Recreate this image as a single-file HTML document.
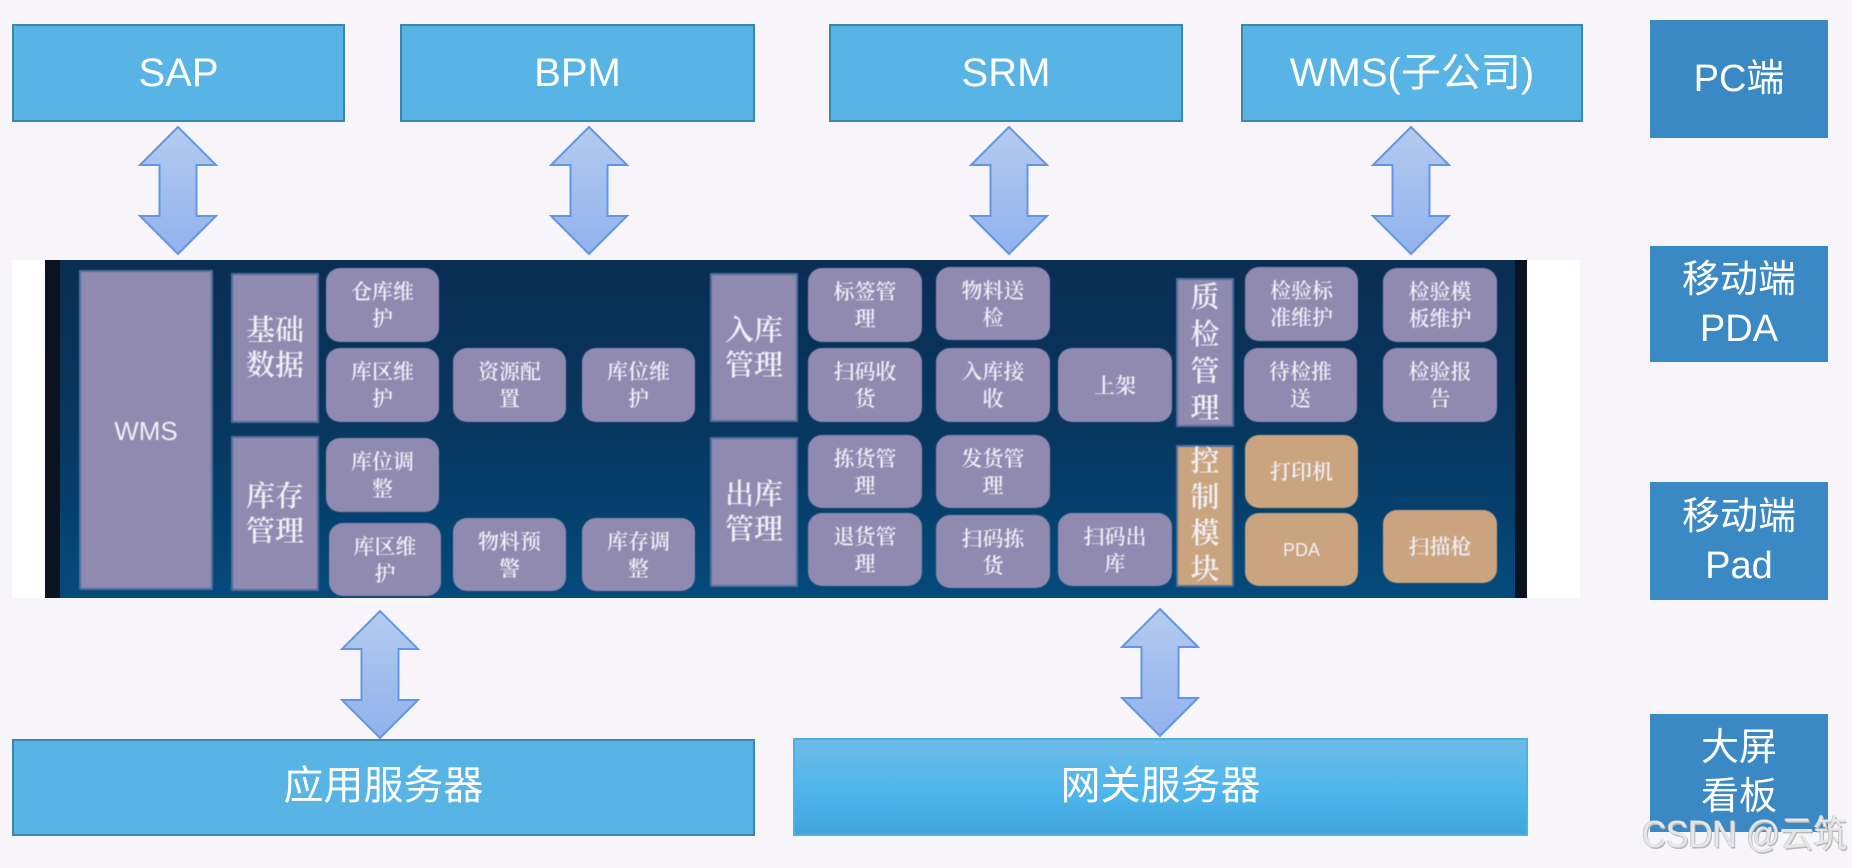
<!DOCTYPE html>
<html lang="zh"><head><meta charset="utf-8"><title>WMS</title>
<style>
html,body{margin:0;padding:0;width:1852px;height:868px;overflow:hidden;background:#f7f5f9}
body{position:relative;font-family:"Liberation Sans","Noto Sans CJK SC",sans-serif}
div{box-sizing:border-box}
.b,.r,.p,.q,.o,.oq{position:absolute;display:flex;align-items:center;justify-content:center;text-align:center}
.t{background:#57b4e4;border:2px solid #3c85ad;color:#fff;font-size:40px}
.g{background:linear-gradient(#6dbbe8,#4eb6ec 55%,#3fa6dc);border:2px solid #4fb0e3}
.r{background:#3a88c4;color:#fff;font-size:38px;line-height:49px}
#panel{position:absolute;left:12px;top:260px;width:1568px;height:338px;background:#fff}
#dark{position:absolute;left:33px;top:0;width:1482px;height:338px;background:linear-gradient(#0a2d52,#07375f 50%,#034a7c);border-left:15px solid #0b1220;border-right:12px solid #0b1220}
#in{position:absolute;left:-12px;top:-260px;width:1852px;height:868px;filter:blur(.5px);font-family:"Liberation Sans","Noto Serif CJK SC",serif}
#in div{position:absolute}
.p,.q,.o,.oq{color:#f1eff6;font-weight:600}
.p{background:#9089b0;border:2px solid #4f6f9c;font-size:29px;line-height:35px;padding-top:2px}
.q{background:#9089b0;border-radius:14px;font-size:21px;line-height:27px;padding-top:2px}
.o{background:#c9a47f;border:2px solid #4f6f9c;font-size:29px;line-height:36px}
.oq{background:#c9a47f;border-radius:14px;font-size:21px;line-height:27px;padding-top:2px}
#w{position:absolute;left:1642px;top:815px;font-size:33.5px;line-height:42px;color:#e6e6e6;text-shadow:1px 1px 0 #b8b8b8,-1px 0 0 #cccccc;white-space:nowrap;transform:scaleY(1.12);transform-origin:0 50%}
</style></head><body>
<svg width="1852" height="868" style="position:absolute;left:0;top:0">
<defs><linearGradient id="a" x1="0" y1="0" x2="0" y2="1"><stop offset="0" stop-color="#b5cbef"/><stop offset="1" stop-color="#90b2ee"/></linearGradient>
<path id="ar" d="M0 0L38 38H18.5V89H38L0 127L-38 89H-18.5V38H-38Z" fill="url(#a)" stroke="#6396e2" stroke-width="2"/></defs>
<use href="#ar" x="178" y="127"/><use href="#ar" x="589" y="127"/><use href="#ar" x="1009" y="127"/><use href="#ar" x="1411" y="127"/>
<use href="#ar" x="380" y="611"/><use href="#ar" x="1160" y="609"/>
</svg>
<div class="b t" style="left:12px;top:24px;width:333px;height:98px">SAP</div>
<div class="b t" style="left:400px;top:24px;width:355px;height:98px">BPM</div>
<div class="b t" style="left:829px;top:24px;width:354px;height:98px">SRM</div>
<div class="b t" style="left:1241px;top:24px;width:342px;height:98px;padding-bottom:8px">WMS(子公司)</div>
<div class="b t" style="left:12px;top:739px;width:743px;height:97px;padding-bottom:11px">应用服务器</div>
<div class="b t g" style="left:793px;top:738px;width:735px;height:98px;padding-bottom:11px">网关服务器</div>
<div class="r" style="left:1650px;top:20px;width:178px;height:118px">PC端</div>
<div class="r" style="left:1650px;top:246px;width:178px;height:116px;padding-top:2px">移动端<br>PDA</div>
<div class="r" style="left:1650px;top:482px;width:178px;height:118px;padding-top:2px">移动端<br>Pad</div>
<div class="r" style="left:1650px;top:714px;width:178px;height:118px">大屏<br>看板</div>
<div id="panel"><div id="dark"></div><div id="in">
<div class="p" style="left:79px;top:270px;width:134px;height:320px;font-family:'Liberation Sans',sans-serif;font-size:26px;font-weight:400">WMS</div>
<div class="p" style="left:231px;top:273px;width:88px;height:150px">基础<br>数据</div>
<div class="p" style="left:231px;top:436px;width:88px;height:155px">库存<br>管理</div>
<div class="q" style="left:326px;top:268px;width:113px;height:74px">仓库维<br>护</div>
<div class="q" style="left:326px;top:348px;width:113px;height:74px">库区维<br>护</div>
<div class="q" style="left:453px;top:348px;width:113px;height:74px">资源配<br>置</div>
<div class="q" style="left:582px;top:348px;width:113px;height:74px">库位维<br>护</div>
<div class="q" style="left:326px;top:438px;width:113px;height:74px">库位调<br>整</div>
<div class="q" style="left:329px;top:523px;width:112px;height:73px">库区维<br>护</div>
<div class="q" style="left:453px;top:518px;width:113px;height:73px">物料预<br>警</div>
<div class="q" style="left:582px;top:518px;width:113px;height:73px">库存调<br>整</div>
<div class="p" style="left:710px;top:273px;width:88px;height:149px">入库<br>管理</div>
<div class="p" style="left:710px;top:437px;width:88px;height:150px">出库<br>管理</div>
<div class="q" style="left:808px;top:268px;width:114px;height:74px">标签管<br>理</div>
<div class="q" style="left:936px;top:267px;width:114px;height:73px">物料送<br>检</div>
<div class="q" style="left:808px;top:348px;width:114px;height:74px">扫码收<br>货</div>
<div class="q" style="left:936px;top:348px;width:114px;height:74px">入库接<br>收</div>
<div class="q" style="left:1058px;top:348px;width:114px;height:74px">上架</div>
<div class="p" style="left:1176px;top:278px;width:58px;height:149px;line-height:37px">质<br>检<br>管<br>理</div>
<div class="q" style="left:1245px;top:267px;width:113px;height:74px">检验标<br>准维护</div>
<div class="q" style="left:1244px;top:348px;width:113px;height:74px">待检推<br>送</div>
<div class="q" style="left:1383px;top:268px;width:114px;height:74px">检验模<br>板维护</div>
<div class="q" style="left:1383px;top:348px;width:114px;height:74px">检验报<br>告</div>
<div class="q" style="left:808px;top:435px;width:114px;height:73px">拣货管<br>理</div>
<div class="q" style="left:936px;top:435px;width:114px;height:73px">发货管<br>理</div>
<div class="q" style="left:808px;top:513px;width:114px;height:73px">退货管<br>理</div>
<div class="q" style="left:936px;top:515px;width:114px;height:73px">扫码拣<br>货</div>
<div class="q" style="left:1058px;top:513px;width:114px;height:73px">扫码出<br>库</div>
<div class="o" style="left:1176px;top:445px;width:58px;height:142px">控<br>制<br>模<br>块</div>
<div class="oq" style="left:1245px;top:435px;width:113px;height:73px">打印机</div>
<div class="oq" style="left:1245px;top:513px;width:113px;height:73px;font-family:'Liberation Sans',sans-serif;font-size:18px;font-weight:400">PDA</div>
<div class="oq" style="left:1383px;top:510px;width:114px;height:73px">扫描枪</div>
</div></div>
<div id="w">CSDN @云筑</div>
</body></html>
